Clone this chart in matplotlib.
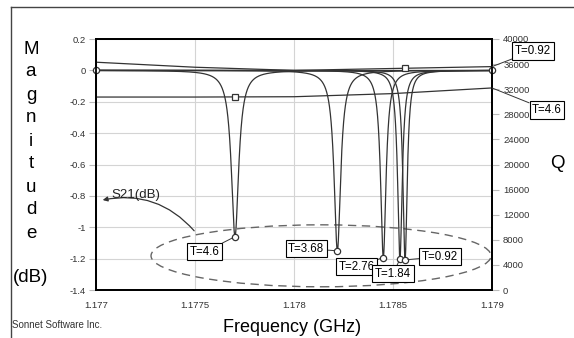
import numpy as np
import matplotlib
matplotlib.use("Agg")
import matplotlib.pyplot as plt
from matplotlib.patches import Ellipse
from matplotlib.lines import Line2D

plt.rcParams['font.family'] = ['Liberation Sans', 'DejaVu Sans']

# ---- data ----
temps = ["T=4.6", "T=3.68", "T=2.76", "T=1.84", "T=0.92"]
f0 = [1.177702, 1.178219, 1.178451, 1.178535, 1.178561]      # resonance (GHz)
dip_db = [-1.06, -1.15, -1.193, -1.203, -1.208]              # S21 at resonance (dB)
hw = [4.5e-5, 4.0e-5, 3.3e-5, 2.8e-5, 2.6e-5]                # width of dip (GHz)

q_freq = [1.177, 1.1775, 1.178, 1.1785, 1.179]
q_092 = [36300, 35500, 35000, 35300, 35600]
q_46 = [30750, 30750, 30800, 31300, 32200]
q_mark_092 = 35380
q_mark_46 = 30800

# label box centres (freq, dB)
lab_pos = [(1.177550, -1.157), (1.178062, -1.137), (1.178315, -1.252),
           (1.178500, -1.297), (1.178737, -1.188)]

LC = "#333333"
fig = plt.figure(figsize=(5.74, 3.38), dpi=100)
ax = fig.add_axes([96/574, 48/338, 396/574, 251/338])
ax2 = ax.twinx()

f = np.linspace(1.177, 1.179, 4001)
for fc, d, w in zip(f0, dip_db, hw):
    s = d / (1 + (2 * (f - fc) / w) ** 2)
    ax.plot(f, s, color=LC, lw=0.9, zorder=3)
    ax.plot([fc], [d], 'o', ms=4.5, mfc='white', mec=LC, mew=0.9, zorder=5)
ax.plot([1.177, 1.179], [0, 0], 'o', ms=4.5, mfc='white', mec=LC, mew=0.9,
        zorder=5, clip_on=False)

ax2.plot(q_freq, q_092, color=LC, lw=0.9)
ax2.plot(q_freq, q_46, color=LC, lw=0.9)
ax2.plot([f0[4]], [q_mark_092], 's', ms=5, mfc='white', mec=LC, mew=0.9)
ax2.plot([f0[0]], [q_mark_46], 's', ms=5, mfc='white', mec=LC, mew=0.9)

ax.set_xlim(1.177, 1.179)
ax.set_ylim(-1.4, 0.2)
ax2.set_ylim(0, 40000)
ax.set_xticks([1.177, 1.1775, 1.178, 1.1785, 1.179])
ax.set_xticklabels(["1.177", "1.1775", "1.178", "1.1785", "1.179"])
ax.set_yticks(np.arange(-1.4, 0.21, 0.2))
ax.set_yticklabels(["-1.4", "-1.2", "-1", "-0.8", "-0.6", "-0.4", "-0.2", "0", "0.2"])
ax2.set_yticks(range(0, 40001, 4000))
ax.grid(True, color="#d4d4d4", lw=0.8)
ax.set_axisbelow(True)
ax.tick_params(axis='x', length=0, pad=8, labelsize=6.8, labelcolor="#333")
ax.tick_params(axis='y', length=5, color="#bbbbbb", pad=2, labelsize=6.8, labelcolor="#333")
ax2.tick_params(axis='y', length=5, color="#bbbbbb", pad=3, labelsize=6.8, labelcolor="#333")
for a in (ax, ax2):
    for sp in a.spines.values():
        sp.set_linewidth(1.3)
        sp.set_color("black")

# dashed ellipse + S21 arrow
ax.add_patch(Ellipse((1.1781364, -1.182), 0.001717, 0.395, fill=False,
                     ls=(0, (6, 4)), ec="#666666", lw=1.0, zorder=2))
ax.annotate("", xy=(1.17702, -0.83), xytext=(1.177505, -1.036),
            arrowprops=dict(arrowstyle="-|>", color=LC, lw=0.9, mutation_scale=7,
                            connectionstyle="arc3,rad=0.3"))
ax.text(1.177202, -0.794, "S21(dB)", ha="center", va="center", fontsize=9.5, color="#222")

box = dict(boxstyle="square,pad=0.22", fc="white", ec="black", lw=0.8)
for t, (lx, ly), fc, d in zip(temps, lab_pos, f0, dip_db):
    ax.annotate(t, xy=(fc, d), xytext=(lx, ly), ha="center", va="center",
                fontsize=8.3, bbox=box, zorder=6,
                arrowprops=dict(arrowstyle="-", color=LC, lw=0.7, shrinkA=0, shrinkB=2))

ax2.annotate("T=0.92", xy=(1.179, 35600), xytext=(1.179207, 38088), ha="center",
             va="center", fontsize=8.3, bbox=box, annotation_clip=False,
             arrowprops=dict(arrowstyle="-", color=LC, lw=0.7, shrinkA=0, shrinkB=0))
ax2.annotate("T=4.6", xy=(1.179, 32200), xytext=(1.1792778, 28685), ha="center",
             va="center", fontsize=8.3, bbox=box, annotation_clip=False,
             arrowprops=dict(arrowstyle="-", color=LC, lw=0.7, shrinkA=0, shrinkB=0))

# outside labels
for i, ch in enumerate("Magnitude"):
    fig.text(31/574, 1 - (49 + i * 23.0) / 338, ch, ha="center", va="center", fontsize=13.5)
fig.text(31/574, 1 - 278/338, "(dB)", ha="center", va="center", fontsize=13.5)
fig.text(557/574, 1 - 163/338, "Q", ha="center", va="center", fontsize=13.5)
fig.text(292/574, 1 - 327/338, "Frequency (GHz)", ha="center", va="center", fontsize=13)
fig.text(12/574, 1 - 325/338, "Sonnet Software Inc.", ha="left", va="center",
         fontsize=7, color="#333")

# outer frame (left and top edge)
fig.add_artist(Line2D([11/574, 11/574], [0, 1 - 7/338], color="#444", lw=1.0))
fig.add_artist(Line2D([11/574, 1], [1 - 7/338, 1 - 7/338], color="#444", lw=1.0))

fig.savefig("out.png", dpi=100, facecolor="white")
